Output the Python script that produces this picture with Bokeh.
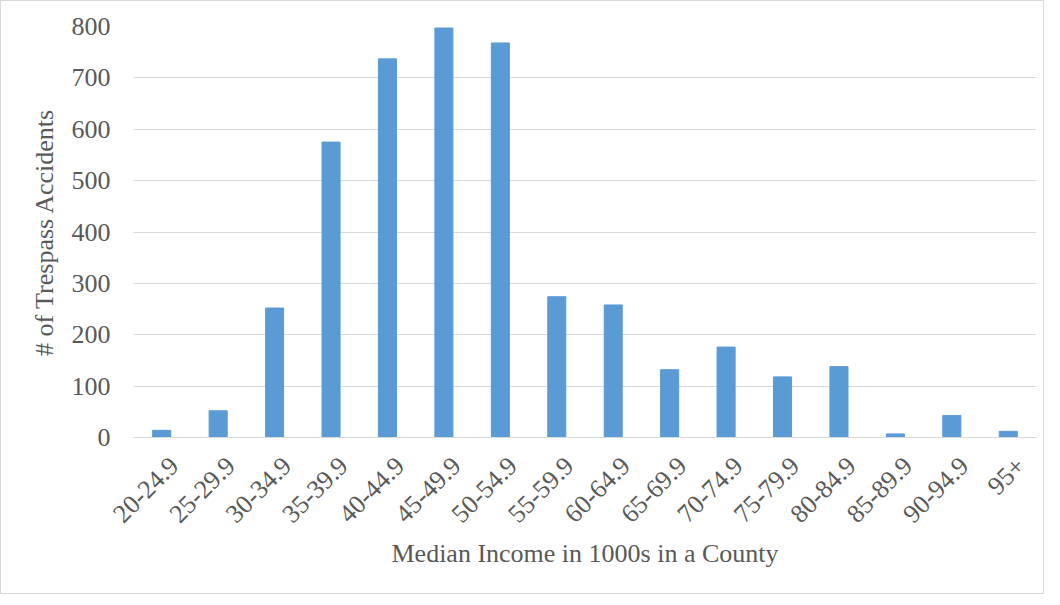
import math
from bokeh.plotting import figure
from bokeh.models import Range1d, FixedTicker, LinearAxis, ColumnDataSource
from bokeh.embed import file_html
from bokeh.resources import INLINE

categories = ["20-24.9", "25-29.9", "30-34.9", "35-39.9", "40-44.9", "45-49.9",
              "50-54.9", "55-59.9", "60-64.9", "65-69.9", "70-74.9", "75-79.9",
              "80-84.9", "85-89.9", "90-94.9", "95+"]
accidents = [14, 52, 252, 575, 737, 797, 768, 274, 258, 132, 176, 118, 138, 7, 43, 12]
y_ticks = [0, 100, 200, 300, 400, 500, 600, 700, 800]

FONT = "Liberation Serif"
TXT = "#595959"
GRID = "#d9d9d9"
LABEL_SHIFT = 0.22  # horizontal nudge of rotated category labels (in category widths)

n = len(categories)
pos = [i + 0.5 for i in range(n)]  # category slot centres

p = figure(x_range=Range1d(0, n), y_range=Range1d(0, 800),
           frame_width=903, frame_height=411,
           min_border_left=132, min_border_right=7, min_border_top=25, min_border_bottom=156,
           output_backend="svg", toolbar_location=None)
p.styles = {"border": "1px solid #d9d9d9"}

src = ColumnDataSource(dict(x=pos, top=accidents, cat=categories))
p.vbar(x="x", top="top", source=src, width=0.32, fill_color="#5b9bd5", line_color="#5b9bd5")

p.outline_line_color = None
p.xgrid.grid_line_color = None
p.ygrid.grid_line_color = GRID
p.ygrid.grid_line_width = 1
p.xaxis.visible = False

p.yaxis.ticker = FixedTicker(ticks=y_ticks)
p.yaxis.axis_line_color = None
p.yaxis.major_tick_line_color = None
p.yaxis.minor_tick_line_color = None
p.yaxis.major_tick_out = 0
p.yaxis.major_tick_in = 0
p.yaxis.major_label_standoff = 23
p.yaxis.axis_label = "# of Trespass Accidents"
p.yaxis.axis_label_standoff = 10

# category label axis, nudged slightly right like the original layout
p.extra_x_ranges = {"lab": Range1d(-LABEL_SHIFT, n - LABEL_SHIFT)}
xax = LinearAxis(x_range_name="lab", ticker=FixedTicker(ticks=pos),
                 major_label_overrides={t: c for t, c in zip(pos, categories)})
xax.axis_line_color = GRID
xax.major_tick_line_color = None
xax.minor_tick_line_color = None
xax.major_tick_out = 0
xax.major_tick_in = 0
xax.major_label_orientation = math.pi / 4
xax.major_label_standoff = 24
xax.axis_label = "Median Income in 1000s in a County"
xax.axis_label_standoff = 6
p.add_layout(xax, "below")

for ax in (xax, p.yaxis[0]):
    ax.major_label_text_font = FONT
    ax.major_label_text_font_size = "26px"
    ax.major_label_text_color = TXT
    ax.axis_label_text_font = FONT
    ax.axis_label_text_font_size = "26px"
    ax.axis_label_text_font_style = "normal"
    ax.axis_label_text_color = TXT

open("out.html", "w").write(file_html(p, INLINE))
